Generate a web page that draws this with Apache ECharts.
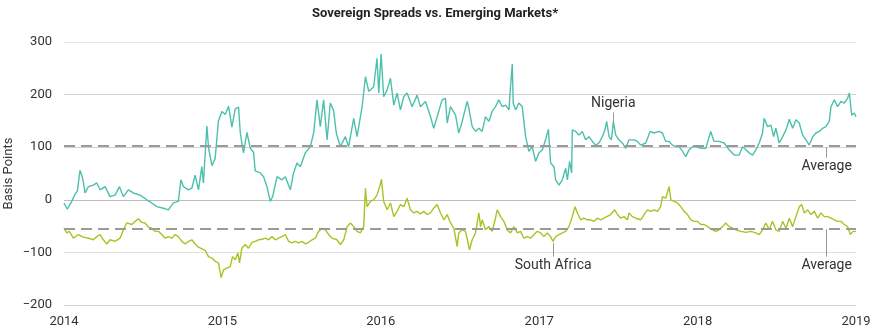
<!DOCTYPE html>
<html><head><meta charset="utf-8">
<script src="https://cdn.jsdelivr.net/npm/echarts@6/dist/echarts.min.js"></script>
<style>html,body{margin:0;padding:0;background:#fff}#c{width:870px;height:332px}</style>
</head><body><div id="c"></div>
<script>
const START_YEAR = 2014;
const yearTicks = [2014, 2015, 2016, 2017, 2018, 2019];
const yTicks = [-200, -100, 0, 100, 200, 300];
// years since 2014
const nigeriaT = [0,0.021,0.049,0.070,0.084,0.101,0.118,0.133,0.154,0.185,
0.207,0.228,0.259,0.291,0.322,0.350,0.375,0.406,0.438,0.480,
0.523,0.554,0.586,0.628,0.659,0.691,0.722,0.738,0.754,0.786,
0.807,0.828,0.849,0.870,0.880,0.902,0.913,0.934,0.954,0.975,
0.997,1.018,1.039,1.060,1.081,1.102,1.113,1.133,1.155,1.176,
1.197,1.207,1.239,1.260,1.281,1.302,1.317,1.345,1.376,1.397,
1.429,1.449,1.471,1.492,1.523,1.555,1.576,1.597,1.618,1.639,
1.661,1.681,1.702,1.719,1.745,1.776,1.797,1.829,1.850,1.882,
1.903,1.924,1.955,1.976,1.987,2.002,2.018,2.040,2.061,2.082,
2.103,2.124,2.145,2.166,2.198,2.229,2.250,2.282,2.314,2.334,
2.356,2.387,2.408,2.419,2.440,2.472,2.492,2.514,2.545,2.556,
2.577,2.598,2.619,2.640,2.661,2.682,2.703,2.724,2.745,2.767,
2.788,2.809,2.819,2.830,2.836,2.851,2.872,2.893,2.914,2.935,
2.956,2.977,2.998,3.020,3.040,3.058,3.072,3.093,3.104,3.125,
3.146,3.167,3.178,3.192,3.205,3.209,3.230,3.251,3.272,3.293,
3.314,3.336,3.357,3.377,3.399,3.415,3.426,3.441,3.456,3.468,
3.483,3.504,3.525,3.546,3.567,3.599,3.620,3.641,3.673,3.700,
3.725,3.757,3.778,3.799,3.820,3.841,3.862,3.883,3.905,3.925,
3.946,3.968,3.989,4.020,4.052,4.073,4.083,4.104,4.136,4.168,
4.199,4.231,4.262,4.284,4.305,4.326,4.347,4.368,4.389,4.410,
4.420,4.442,4.463,4.480,4.494,4.515,4.537,4.558,4.579,4.600,
4.621,4.642,4.663,4.684,4.705,4.727,4.747,4.768,4.789,4.810,
4.831,4.842,4.863,4.884,4.905,4.926,4.947,4.958,4.973,4.989,
5.000];
const nigeriaV = [-6,-18,-3,11,16,56,41,13,25,28,
32,19,25,6,9,25,6,19,13,9,
0,-6,-13,-16,-19,-6,-3,38,25,19,
22,47,19,63,32,140,98,65,78,150,
168,162,178,138,173,176,127,89,128,98,
90,55,51,44,25,-3,6,44,38,44,
19,51,70,63,89,101,127,190,139,190,
114,184,170,127,101,120,101,155,120,177,
234,206,215,269,203,277,196,209,231,180,
203,171,196,203,177,199,177,187,158,136,
158,190,193,146,177,161,127,149,187,174,
139,130,136,130,158,149,168,177,190,177,
180,171,215,258,184,171,184,177,120,92,
101,73,89,95,114,134,70,63,38,28,
38,60,38,73,51,133,130,123,130,114,
120,111,104,108,120,133,149,120,114,149,
123,114,108,98,114,114,111,104,108,130,
127,130,127,111,111,104,101,101,92,82,
95,101,101,98,98,120,130,111,111,108,
95,85,85,101,95,89,85,95,108,127,
155,139,142,120,136,108,120,133,153,136,
152,146,123,114,104,120,127,130,136,139,
149,177,190,177,187,184,193,203,161,165,
158];
const southAfricaT = [0,0.017,0.034,0.059,0.090,0.122,0.154,0.185,0.207,0.228,
0.248,0.270,0.291,0.322,0.354,0.375,0.396,0.428,0.449,0.470,
0.491,0.512,0.533,0.554,0.575,0.596,0.618,0.638,0.659,0.681,
0.702,0.722,0.744,0.765,0.786,0.807,0.828,0.849,0.860,0.891,
0.912,0.934,0.954,0.975,0.992,1.007,1.028,1.049,1.064,1.081,
1.098,1.108,1.123,1.144,1.165,1.186,1.207,1.228,1.250,1.271,
1.291,1.313,1.334,1.355,1.376,1.397,1.418,1.439,1.460,1.481,
1.503,1.523,1.544,1.566,1.587,1.607,1.629,1.650,1.671,1.692,
1.723,1.745,1.766,1.788,1.808,1.829,1.850,1.871,1.892,1.903,
1.913,1.934,1.955,1.976,1.993,2.004,2.018,2.040,2.061,2.082,
2.103,2.124,2.145,2.166,2.187,2.208,2.229,2.250,2.271,2.293,
2.314,2.334,2.356,2.377,2.398,2.419,2.440,2.461,2.482,2.492,
2.514,2.535,2.560,2.577,2.598,2.619,2.630,2.640,2.661,2.682,
2.703,2.724,2.735,2.756,2.777,2.798,2.819,2.840,2.862,2.882,
2.903,2.925,2.946,2.967,2.988,3.009,3.030,3.051,3.072,3.087,
3.104,3.125,3.146,3.167,3.188,3.209,3.226,3.241,3.262,3.282,
3.304,3.325,3.346,3.367,3.388,3.409,3.451,3.477,3.494,3.515,
3.535,3.557,3.567,3.588,3.609,3.641,3.662,3.683,3.704,3.725,
3.746,3.767,3.778,3.799,3.820,3.831,3.852,3.873,3.894,3.915,
3.936,3.957,3.978,3.999,4.020,4.041,4.063,4.094,4.115,4.136,
4.157,4.178,4.199,4.221,4.242,4.273,4.305,4.336,4.368,4.389,
4.410,4.431,4.452,4.473,4.494,4.515,4.537,4.558,4.579,4.600,
4.621,4.642,4.657,4.674,4.695,4.716,4.737,4.758,4.779,4.800,
4.821,4.842,4.863,4.884,4.905,4.926,4.947,4.964,4.982,5.000];
const southAfricaV = [-54,-63,-60,-73,-66,-71,-73,-76,-70,-66,
-76,-84,-76,-79,-73,-57,-44,-47,-41,-36,
-43,-44,-52,-54,-60,-60,-66,-73,-70,-73,
-66,-70,-79,-84,-79,-76,-84,-90,-92,-96,
-108,-111,-117,-120,-148,-133,-130,-127,-108,-114,
-101,-120,-92,-85,-92,-81,-79,-76,-75,-73,
-76,-70,-76,-73,-70,-66,-79,-82,-79,-82,
-79,-84,-81,-76,-73,-60,-54,-57,-66,-73,
-76,-85,-76,-51,-44,-51,-60,-63,-51,22,
-13,-3,0,9,25,39,-3,-19,-6,-32,
-22,-9,-13,3,-19,-25,-22,-27,-22,-28,
-25,-16,-9,-25,-38,-28,-44,-54,-89,-63,
-57,-60,-95,-76,-63,-25,-51,-38,-57,-51,
-60,-35,-19,-32,-41,-57,-63,-51,-63,-60,
-73,-70,-73,-66,-60,-63,-70,-63,-70,-79,
-70,-66,-63,-60,-51,-32,-13,-25,-38,-35,
-38,-38,-41,-35,-38,-35,-28,-19,-28,-35,
-32,-38,-25,-32,-35,-38,-28,-19,-22,-19,
-22,-13,6,3,25,0,-3,-6,-13,-22,
-28,-38,-41,-41,-47,-47,-51,-57,-60,-57,
-51,-44,-51,-54,-57,-60,-62,-60,-63,-66,
-57,-44,-57,-41,-57,-60,-41,-54,-35,-51,
-32,-13,-9,-25,-19,-28,-22,-35,-25,-32,
-32,-35,-38,-41,-41,-47,-51,-66,-60,-60];
const nigeriaAverage = 103.5;
const southAfricaAverage = -54.5;

const FONT = 'Roboto, "Noto Sans", sans-serif';
const pairs = (T, V) => T.map((t, i) => [START_YEAR + t, V[i]]);
const avgItem = v => ({yAxis: v, lineStyle: {color: '#9a9a9a', type: [11, 6], width: 2}});
const leader = (x, y1, y2) => [
  {coord: [START_YEAR + x, y1], lineStyle: {color: '#9a9a9a', type: 'solid', width: 1}},
  {coord: [START_YEAR + x, y2]}
];
const textPt = (x, y, txt) => ({coord: [START_YEAR + x, y], name: txt});
const markPt = items => ({
  silent: true, symbol: 'circle', symbolSize: 1,
  itemStyle: {color: 'rgba(0,0,0,0)'},
  label: {show: true, position: 'inside', formatter: '{b}',
    fontFamily: FONT, fontSize: 14, color: '#333'},
  data: items
});

const chart = echarts.init(document.getElementById('c'), null, {renderer: 'canvas'});
chart.setOption({
  animation: false,
  title: {
    text: 'Sovereign Spreads vs. Emerging Markets*',
    left: 'center', top: 2,
    textStyle: {fontFamily: FONT, fontSize: 13, fontWeight: 'bold', color: '#222'}
  },
  grid: {left: 64, right: 14, top: 42, bottom: 27, containLabel: false, outerBoundsMode: 'none'},
  xAxis: {
    type: 'value', min: yearTicks[0], max: yearTicks[yearTicks.length - 1], interval: 1,
    axisLine: {show: false}, axisTick: {show: false}, splitLine: {show: false},
    axisLabel: {fontFamily: FONT, fontSize: 13, color: '#333', margin: 10,
      formatter: v => String(Math.round(v))}
  },
  yAxis: {
    type: 'value', min: yTicks[0], max: yTicks[yTicks.length - 1], interval: 100,
    name: 'Basis Points', nameLocation: 'middle', nameGap: 49, nameRotate: 90,
    nameMoveOverlap: false,
    nameTextStyle: {fontFamily: FONT, fontSize: 13, color: '#333'},
    axisLine: {show: false}, axisTick: {show: false},
    axisLabel: {fontFamily: FONT, fontSize: 13, color: '#333', margin: 12,
      formatter: v => v < 0 ? '\u2212' + Math.abs(v) : String(v)},
    splitLine: {lineStyle: {color: ['#d4d4d4', '#dedede', '#bdbdbd', '#d4d4d4', '#d4d4d4', '#e4e4e4'], width: 1}}
  },
  series: [
    {
      name: 'Nigeria', type: 'line', data: pairs(nigeriaT, nigeriaV),
      showSymbol: false, lineStyle: {color: '#4cc0ad', width: 1.4}, z: 3,
      markLine: {
        silent: true, symbol: 'none', label: {show: false},
        data: [avgItem(nigeriaAverage), leader(3.468, 166, 146), leader(4.810, 100, 80)]
      },
      markPoint: markPt([textPt(3.468, 184, 'Nigeria'), textPt(4.815, 63, 'Average')])
    },
    {
      name: 'South Africa', type: 'line', data: pairs(southAfricaT, southAfricaV),
      showSymbol: false, lineStyle: {color: '#aac226', width: 1.4}, z: 3,
      markLine: {
        silent: true, symbol: 'none', label: {show: false},
        data: [avgItem(southAfricaAverage), leader(3.088, -82, -108), leader(4.810, -56, -108)]
      },
      markPoint: markPt([textPt(3.088, -124, 'South Africa'), textPt(4.815, -124, 'Average')])
    }
  ]
});
</script></body></html>
